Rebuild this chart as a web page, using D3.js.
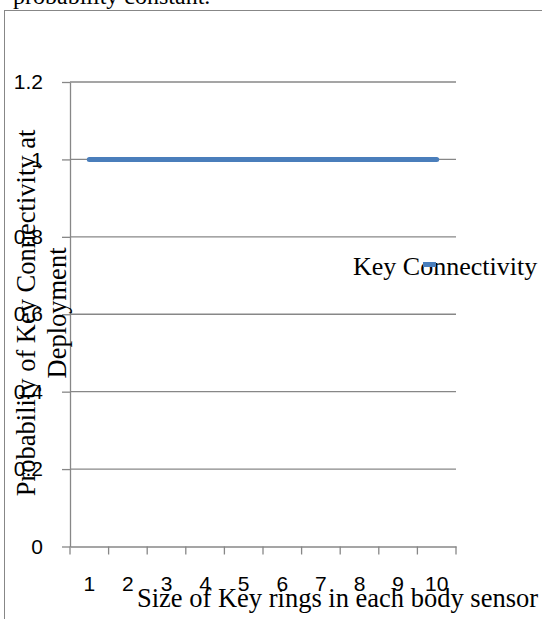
<!DOCTYPE html>
<html>
<head>
<meta charset="utf-8">
<script src="https://cdn.jsdelivr.net/npm/d3@7"></script>
<style>
  html, body { margin: 0; padding: 0; background: #fff; }
  svg { display: block; }
</style>
</head>
<body>
<svg id="chart" width="542" height="619"></svg>
<script>
const categories = ["1","2","3","4","5","6","7","8","9","10"];
const connectivity = [1,1,1,1,1,1,1,1,1,1];
const yTickValues = [0, 0.2, 0.4, 0.6, 0.8, 1, 1.2];
const yTickLabels = ["0","0.2","0.4","0.6","0.8","1","1.2"];
const seriesName = "Key Connectivity";
const xTitle = "Size of Key rings in each body sensor";
const yTitleLines = ["Probability of Key Connectivity at", "Deployment"];
const topText = "probability constant.";

const svg = d3.select("#chart");
const serif = "'Liberation Serif', 'Times New Roman', serif";
const sans = "'Liberation Sans', Arial, sans-serif";
const gridColor = "#878787";
const blue = "#4a7ebb";

// caption fragment at top
svg.append("text").attr("x", 13).attr("y", 4)
  .attr("font-family", serif).attr("font-size", 24).attr("fill", "#000")
  .text(topText);

// chart frame (clipped by page)
svg.append("rect").attr("x", 4.5).attr("y", 10.5).attr("width", 600).attr("height", 700)
  .attr("fill", "none").attr("stroke", gridColor).attr("stroke-width", 1);

const x = d3.scaleBand().domain(categories).range([70, 456]);
const y = d3.scaleLinear().domain([0, 1.2]).range([546.5, 82]);

// gridlines
svg.append("g").selectAll("line").data(yTickValues.filter(v => v > 0)).join("line")
  .attr("x1", 70).attr("x2", 456)
  .attr("y1", d => y(d)).attr("y2", d => y(d))
  .attr("stroke", gridColor).attr("stroke-width", 1.3);

// y axis
const yAxis = d3.axisLeft(y).tickValues(yTickValues)
  .tickFormat((d, i) => yTickLabels[i]).tickSize(8).tickSizeOuter(0).tickPadding(19);
const gy = svg.append("g").attr("transform", "translate(70,0)").call(yAxis);
gy.select(".domain").attr("stroke", gridColor).attr("stroke-width", 1.3);
gy.selectAll(".tick line").attr("stroke", gridColor).attr("stroke-width", 1.3);
gy.selectAll(".tick text").attr("font-family", sans).attr("font-size", 21).attr("fill", "#000");

// x axis: labels at band centers
const xAxis = d3.axisBottom(x).tickSize(0).tickSizeOuter(0).tickPadding(0);
const gx = svg.append("g").attr("transform", "translate(0,546.5)").call(xAxis);
gx.select(".domain").attr("stroke", gridColor).attr("stroke-width", 1.3);
gx.selectAll(".tick text").attr("font-family", sans).attr("font-size", 21).attr("fill", "#000")
  .attr("dy", null).attr("y", 44);
// x ticks at band boundaries
const bounds = categories.map(c => x(c)).concat([x.range()[1]]);
svg.append("g").selectAll("line").data(bounds).join("line")
  .attr("x1", d => d).attr("x2", d => d)
  .attr("y1", 546.5).attr("y2", 554.5)
  .attr("stroke", gridColor).attr("stroke-width", 1.3);

// series line
const line = d3.line().x((d, i) => x(categories[i]) + x.bandwidth() / 2).y(d => y(d));
svg.append("path").datum(connectivity).attr("d", line)
  .attr("fill", "none").attr("stroke", blue).attr("stroke-width", 5)
  .attr("stroke-linecap", "round").attr("stroke-linejoin", "round");

// legend
svg.append("text").attr("x", 353).attr("y", 275)
  .attr("font-family", serif).attr("font-size", 26).attr("fill", "#000").text(seriesName);
svg.append("rect").attr("x", 423).attr("y", 262).attr("width", 13).attr("height", 5).attr("fill", blue);

// axis titles
svg.append("text").attr("x", 137).attr("y", 607)
  .attr("font-family", serif).attr("font-size", 26.5).attr("fill", "#000").text(xTitle);

const yt = svg.append("text").attr("transform", "translate(0,313) rotate(-90)")
  .attr("font-family", serif).attr("font-size", 26.5).attr("fill", "#000")
  .attr("text-anchor", "middle");
yt.append("tspan").attr("x", 0).attr("y", 35).text(yTitleLines[0]);
yt.append("tspan").attr("x", 0).attr("y", 66).text(yTitleLines[1]);
</script>
</body>
</html>
